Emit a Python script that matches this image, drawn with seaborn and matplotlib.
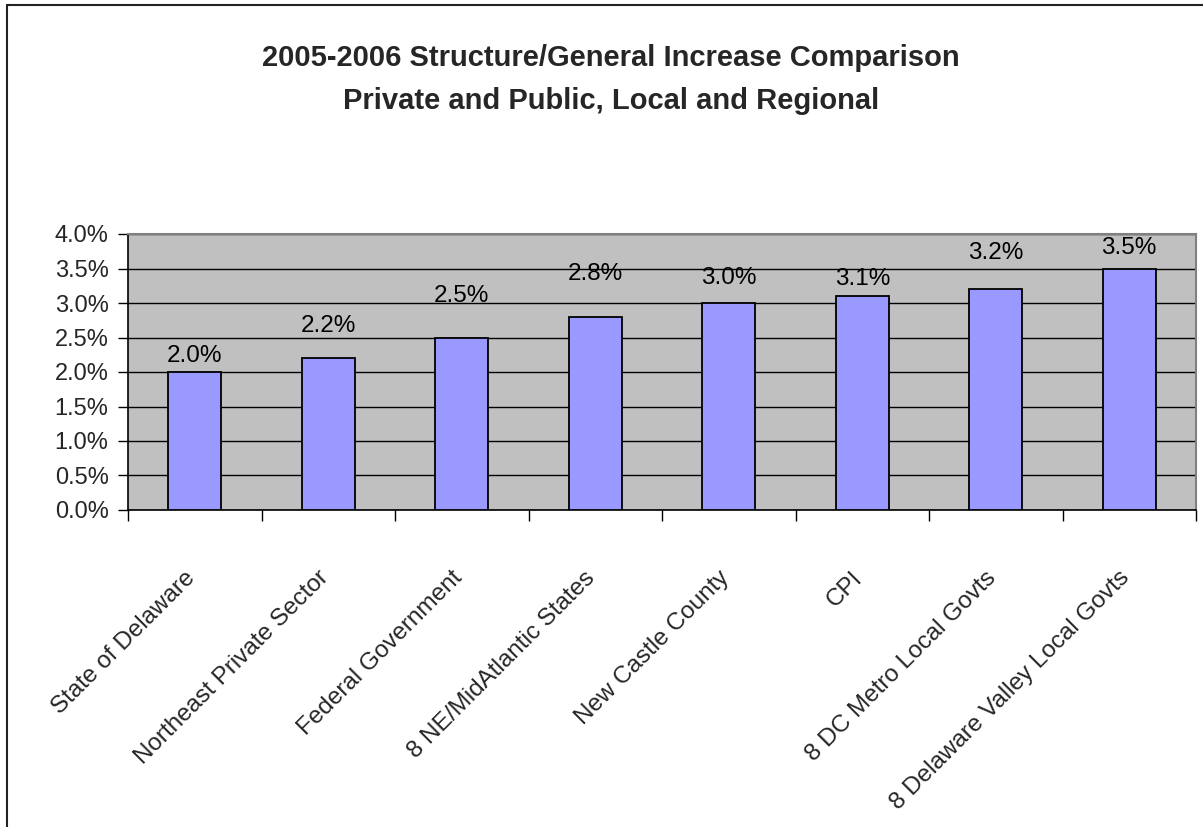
import matplotlib
matplotlib.use("Agg")
import matplotlib.pyplot as plt
import seaborn as sns
import numpy as np
from matplotlib.lines import Line2D
from matplotlib.ticker import FuncFormatter, MultipleLocator
import matplotlib.transforms as mtransforms

categories = ["State of Delaware", "Northeast Private Sector", "Federal Government",
              "8 NE/MidAtlantic States", "New Castle County", "CPI",
              "8 DC Metro Local Govts", "8 Delaware Valley Local Govts"]
values = [2.0, 2.2, 2.5, 2.8, 3.0, 3.1, 3.2, 3.5]
value_labels = ["2.0%", "2.2%", "2.5%", "2.8%", "3.0%", "3.1%", "3.2%", "3.5%"]
title_lines = ["2005-2006 Structure/General Increase Comparison",
               "Private and Public, Local and Regional"]

# label offsets above bar tops (pixels), as placed in the reference
label_offsets_px = [16, 32, 42, 43, 25, 17, 36, 21]

sns.set_style("white")
plt.rcParams["font.family"] = ["Liberation Sans", "DejaVu Sans"]

W, H = 1203, 827
fig = plt.figure(figsize=(W / 100, H / 100), dpi=100)
L, R, T, B = 128, 1196, 234, 510
ax = fig.add_axes([L / W, 1 - B / H, (R - L) / W, (B - T) / H])
ax.set_facecolor("#C0C0C0")
ax.set_axisbelow(True)

sns.barplot(x=categories, y=values, color="#9999FF", saturation=1,
            edgecolor="black", linewidth=1.3, width=0.4, ax=ax, zorder=3)

ax.set_xlim(-0.5, len(categories) - 0.5)
ax.set_ylim(0, 4)
ax.yaxis.set_major_locator(MultipleLocator(0.5))
ax.yaxis.set_major_formatter(FuncFormatter(lambda v, p: f"{v:.1f}%"))
ax.grid(axis="y", color="black", linewidth=1.0, zorder=0)
ax.grid(axis="x", visible=False)

# boundary ticks on x axis (Excel style)
ax.set_xticks(np.arange(len(categories)))
ax.set_xticks(np.arange(len(categories) + 1) - 0.5, minor=True)
ax.tick_params(axis="x", which="major", length=0, pad=41, labelsize=17.5)
ax.tick_params(axis="x", which="minor", length=8, width=1, color="black", direction="out", bottom=True)
ax.tick_params(axis="y", length=7, width=1, color="black", direction="out", left=True, pad=7, labelsize=17)
ax.set_xticklabels(categories, rotation=45, ha="right", rotation_mode="anchor")
offset = mtransforms.ScaledTranslation(-11 / 100, 0, fig.dpi_scale_trans)
for lab in ax.get_xticklabels():
    lab.set_transform(lab.get_transform() + offset)

ax.set_xlabel("")
ax.set_ylabel("")

for s in ["left", "bottom"]:
    ax.spines[s].set_color("black")
    ax.spines[s].set_linewidth(1.2)
for s in ["top", "right"]:
    ax.spines[s].set_color("#808080")
    ax.spines[s].set_linewidth(1.5)

for i, (v, txt) in enumerate(zip(values, value_labels)):
    ax.annotate(txt, xy=(i, v), xytext=(0, label_offsets_px[i] * 0.72),
                textcoords="offset points", ha="center", va="center",
                fontsize=17.5, color="black", zorder=5)

fig.text(611 / W, 1 - 58 / H, title_lines[0], ha="center", va="center",
         fontsize=21, fontweight="bold")
fig.text(611 / W, 1 - 101 / H, title_lines[1], ha="center", va="center",
         fontsize=21, fontweight="bold")

# outer chart border (top and left visible)
fig.add_artist(Line2D([7 / W, 1.0], [1 - 5 / H, 1 - 5 / H], transform=fig.transFigure,
                      color="#222222", linewidth=1.5))
fig.add_artist(Line2D([7 / W, 7 / W], [1 - 5 / H, 0.0], transform=fig.transFigure,
                      color="#222222", linewidth=1.5))

fig.savefig("out.png", dpi=100)
